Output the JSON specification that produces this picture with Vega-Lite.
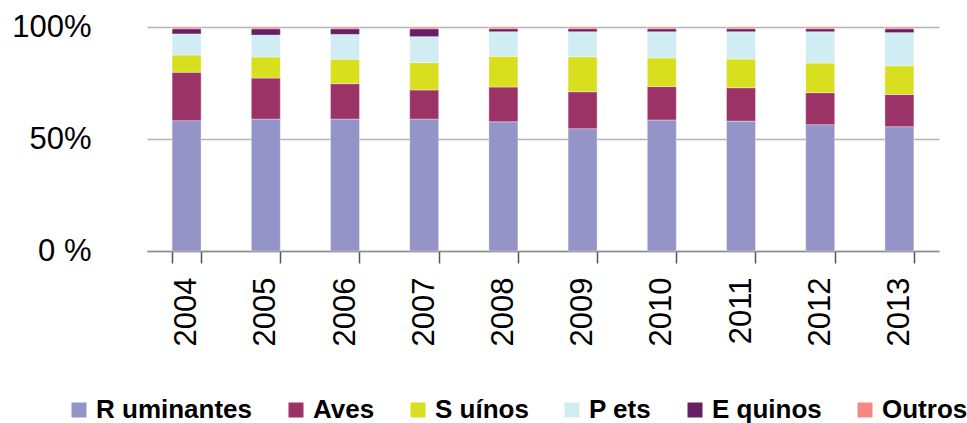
{
  "$schema": "https://vega.github.io/schema/vega-lite/v6.json",
  "width": 792,
  "height": 224,
  "autosize": {"type": "none"},
  "padding": {"left": 147, "top": 27, "right": 28, "bottom": 172},
  "background": "#ffffff",
  "config": {"view": {"stroke": null}, "font": "Liberation Sans"},
  "data": {"values": [
    {"year": "2004", "group": "R uminantes", "pct": 58.2},
    {"year": "2004", "group": "Aves", "pct": 21.6},
    {"year": "2004", "group": "S uínos", "pct": 7.7},
    {"year": "2004", "group": "P ets", "pct": 9.4},
    {"year": "2004", "group": "E quinos", "pct": 2.3},
    {"year": "2004", "group": "Outros", "pct": 0.8},
    {"year": "2005", "group": "R uminantes", "pct": 58.9},
    {"year": "2005", "group": "Aves", "pct": 18.3},
    {"year": "2005", "group": "S uínos", "pct": 9.4},
    {"year": "2005", "group": "P ets", "pct": 9.8},
    {"year": "2005", "group": "E quinos", "pct": 2.8},
    {"year": "2005", "group": "Outros", "pct": 0.8},
    {"year": "2006", "group": "R uminantes", "pct": 58.9},
    {"year": "2006", "group": "Aves", "pct": 15.8},
    {"year": "2006", "group": "S uínos", "pct": 10.9},
    {"year": "2006", "group": "P ets", "pct": 11.1},
    {"year": "2006", "group": "E quinos", "pct": 2.5},
    {"year": "2006", "group": "Outros", "pct": 0.8},
    {"year": "2007", "group": "R uminantes", "pct": 58.9},
    {"year": "2007", "group": "Aves", "pct": 13.0},
    {"year": "2007", "group": "S uínos", "pct": 12.2},
    {"year": "2007", "group": "P ets", "pct": 11.6},
    {"year": "2007", "group": "E quinos", "pct": 3.5},
    {"year": "2007", "group": "Outros", "pct": 0.8},
    {"year": "2008", "group": "R uminantes", "pct": 57.7},
    {"year": "2008", "group": "Aves", "pct": 15.5},
    {"year": "2008", "group": "S uínos", "pct": 13.7},
    {"year": "2008", "group": "P ets", "pct": 11.0},
    {"year": "2008", "group": "E quinos", "pct": 1.3},
    {"year": "2008", "group": "Outros", "pct": 0.8},
    {"year": "2009", "group": "R uminantes", "pct": 54.6},
    {"year": "2009", "group": "Aves", "pct": 16.5},
    {"year": "2009", "group": "S uínos", "pct": 15.6},
    {"year": "2009", "group": "P ets", "pct": 11.2},
    {"year": "2009", "group": "E quinos", "pct": 1.3},
    {"year": "2009", "group": "Outros", "pct": 0.8},
    {"year": "2010", "group": "R uminantes", "pct": 58.5},
    {"year": "2010", "group": "Aves", "pct": 14.9},
    {"year": "2010", "group": "S uínos", "pct": 12.8},
    {"year": "2010", "group": "P ets", "pct": 11.7},
    {"year": "2010", "group": "E quinos", "pct": 1.3},
    {"year": "2010", "group": "Outros", "pct": 0.8},
    {"year": "2011", "group": "R uminantes", "pct": 58.0},
    {"year": "2011", "group": "Aves", "pct": 14.9},
    {"year": "2011", "group": "S uínos", "pct": 12.8},
    {"year": "2011", "group": "P ets", "pct": 12.2},
    {"year": "2011", "group": "E quinos", "pct": 1.3},
    {"year": "2011", "group": "Outros", "pct": 0.8},
    {"year": "2012", "group": "R uminantes", "pct": 56.4},
    {"year": "2012", "group": "Aves", "pct": 14.3},
    {"year": "2012", "group": "S uínos", "pct": 13.2},
    {"year": "2012", "group": "P ets", "pct": 14.0},
    {"year": "2012", "group": "E quinos", "pct": 1.3},
    {"year": "2012", "group": "Outros", "pct": 0.8},
    {"year": "2013", "group": "R uminantes", "pct": 55.5},
    {"year": "2013", "group": "Aves", "pct": 14.4},
    {"year": "2013", "group": "S uínos", "pct": 12.8},
    {"year": "2013", "group": "P ets", "pct": 14.8},
    {"year": "2013", "group": "E quinos", "pct": 1.7},
    {"year": "2013", "group": "Outros", "pct": 0.8}
  ]},
  "transform": [
    {"calculate": "indexof(['R uminantes', 'Aves', 'S uínos', 'P ets', 'E quinos', 'Outros'], datum.group)", "as": "stackOrder"}
  ],
  "mark": {"type": "bar", "stroke": "#ffffff", "strokeOpacity": 0.35, "strokeWidth": 1},
  "encoding": {
    "x": {
      "field": "year",
      "type": "nominal",
      "scale": {"paddingInner": 0.634, "paddingOuter": 0.317},
      "axis": {
        "title": null,
        "labelAngle": 270,
        "labelAlign": "right",
        "labelBaseline": "middle",
        "labelFontSize": 31,
        "labelColor": "#000000",
        "labelPadding": 14,
        "tickBand": "extent",
        "tickSize": 12,
        "tickColor": "#555555",
        "tickWidth": 1.5,
        "domainColor": "#8c8c8c",
        "domainWidth": 1.5,
        "grid": false
      }
    },
    "y": {
      "field": "pct",
      "type": "quantitative",
      "stack": "normalize",
      "scale": {"domain": [0, 1]},
      "axis": {
        "title": null,
        "values": [0, 0.5, 1],
        "labelExpr": "datum.value == 0 ? '0 %' : datum.value == 0.5 ? '50%' : '100%'",
        "labelFontSize": 31,
        "labelColor": "#000000",
        "labelPadding": 56,
        "ticks": false,
        "domain": false,
        "grid": true,
        "gridColor": "#b3b3b3",
        "gridWidth": 1.5
      }
    },
    "order": {"field": "stackOrder", "type": "quantitative", "sort": "ascending"},
    "color": {
      "field": "group",
      "type": "nominal",
      "sort": ["R uminantes", "Aves", "S uínos", "P ets", "E quinos", "Outros"],
      "scale": {
        "domain": ["R uminantes", "Aves", "S uínos", "P ets", "E quinos", "Outros"],
        "range": ["#9494c8", "#9b3366", "#d7df1f", "#d0edf3", "#632066", "#f58883"]
      },
      "legend": {
        "title": null,
        "orient": "none",
        "direction": "horizontal",
        "legendX": -81,
        "legendY": 370,
        "symbolType": "square",
        "symbolSize": 225,
        "symbolStrokeWidth": 0,
        "labelFontSize": 26,
        "labelFontWeight": "bold",
        "labelColor": "#000000",
        "labelOffset": 4,
        "columnPadding": 30,
        "labelLimit": 300
      }
    }
  }
}
